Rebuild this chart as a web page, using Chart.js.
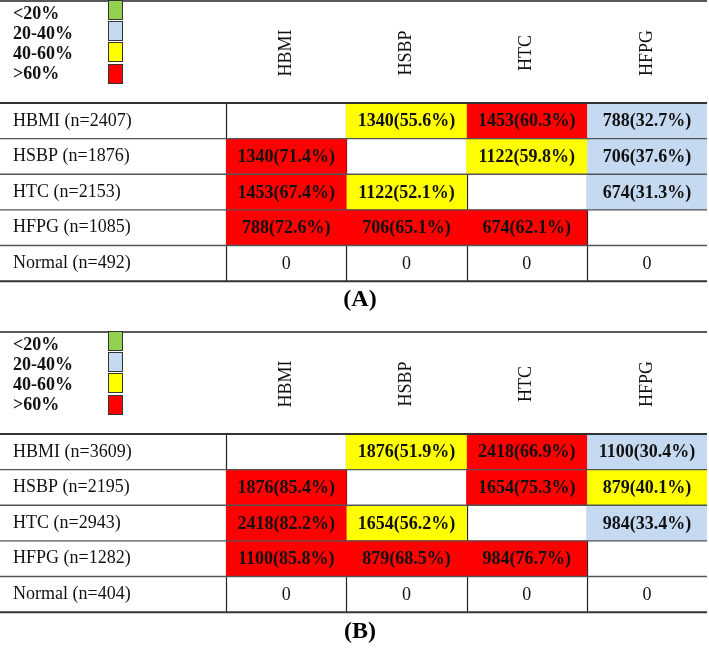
<!DOCTYPE html>
<html>
<head>
<meta charset="utf-8">
<script src="https://cdn.jsdelivr.net/npm/chart.js@4"></script>
<style>
  html, body { margin: 0; padding: 0; background: #fff; }
  .panel { position: relative; width: 709px; height: 325px; }
</style>
</head>
<body>
<div class="panel"><canvas id="chartA"></canvas></div>
<div class="panel"><canvas id="chartB"></canvas></div>
<script>
const columns = ['HBMI', 'HSBP', 'HTC', 'HFPG'];
const legendLabels = ['<20%', '20-40%', '40-60%', '>60%'];
const legendColors = ['#92D050', '#C5D9F1', '#FFFF00', '#FF0000'];

// panel (A)
const rowsA = ['HBMI (n=2407)', 'HSBP (n=1876)', 'HTC (n=2153)', 'HFPG (n=1085)', 'Normal (n=492)'];
const countsA = [
  [null, 1340, 1453, 788],
  [1340, null, 1122, 706],
  [1453, 1122, null, 674],
  [788, 706, 674, null],
  [0, 0, 0, 0]
];
const pctA = [
  [null, 55.6, 60.3, 32.7],
  [71.4, null, 59.8, 37.6],
  [67.4, 52.1, null, 31.3],
  [72.6, 65.1, 62.1, null],
  [null, null, null, null]
];

// panel (B)
const rowsB = ['HBMI (n=3609)', 'HSBP (n=2195)', 'HTC (n=2943)', 'HFPG (n=1282)', 'Normal (n=404)'];
const countsB = [
  [null, 1876, 2418, 1100],
  [1876, null, 1654, 879],
  [2418, 1654, null, 984],
  [1100, 879, 984, null],
  [0, 0, 0, 0]
];
const pctB = [
  [null, 51.9, 66.9, 30.4],
  [85.4, null, 75.3, 40.1],
  [82.2, 56.2, null, 33.4],
  [85.8, 68.5, 76.7, null],
  [null, null, null, null]
];

const SERIF = '"Liberation Serif", "Times New Roman", serif';

function cellColor(p) {
  if (p == null) return 'rgba(255,255,255,0)';
  if (p < 20) return legendColors[0];
  if (p < 40) return legendColors[1];
  if (p <= 60) return legendColors[2];
  return legendColors[3];
}

function makeTablePlugin(counts, pcts) {
  return {
    id: 'tableDecor',
    beforeDatasetsDraw(chart) {
      const { ctx, chartArea, scales: { x } } = chart;
      ctx.save();
      ctx.strokeStyle = '#222';
      ctx.lineWidth = 1.2;
      for (let c = 0; c < columns.length; c++) {
        const px = Math.round(x.getPixelForValue(c)) + 0.5;
        ctx.beginPath();
        ctx.moveTo(px, chartArea.top);
        ctx.lineTo(px, chartArea.bottom);
        ctx.stroke();
      }
      ctx.restore();
    },
    afterDatasetsDraw(chart) {
      const { ctx, chartArea, scales: { x, y } } = chart;
      const n = y.getLabels().length;
      const half = (y.getPixelForValue(1) - y.getPixelForValue(0)) / 2;
      ctx.save();

      // row lines, full width
      for (let i = 0; i <= n; i++) {
        const py = (i < n ? y.getPixelForValue(i) - half : y.getPixelForValue(n - 1) + half);
        ctx.strokeStyle = (i === 0 || i === n) ? '#333' : '#555';
        ctx.lineWidth = (i === 0 || i === n) ? 2 : 1.4;
        ctx.beginPath();
        ctx.moveTo(0, py);
        ctx.lineTo(chartArea.right, py);
        ctx.stroke();
      }
      // top border of the header
      ctx.strokeStyle = '#222';
      ctx.lineWidth = 1.5;
      ctx.beginPath();
      ctx.moveTo(0, x.top);
      ctx.lineTo(chartArea.right, x.top);
      ctx.stroke();

      // cell texts
      ctx.textAlign = 'center';
      ctx.textBaseline = 'middle';
      chart.data.datasets.forEach((ds, c) => {
        const meta = chart.getDatasetMeta(c);
        meta.data.forEach((el, i) => {
          const v = counts[i][c];
          if (v == null) return;
          const pt = el.getCenterPoint();
          ctx.fillStyle = '#111';
          if (v === 0) {
            ctx.font = '18px ' + SERIF;
            ctx.fillText('0', pt.x, pt.y + 1);
          } else {
            ctx.font = 'bold 18px ' + SERIF;
            ctx.fillText(v + '(' + pcts[i][c].toFixed(1) + '%)', pt.x, pt.y + 1);
          }
        });
      });

      // rotated column headers
      const midY = (x.top + chartArea.top) / 2 + 1;
      ctx.font = '18px ' + SERIF;
      ctx.fillStyle = '#111';
      columns.forEach((col, c) => {
        ctx.save();
        ctx.translate(x.getPixelForValue(c + 0.5), midY);
        ctx.rotate(-Math.PI / 2);
        ctx.fillText(col, 0, 0);
        ctx.restore();
      });

      // colour key
      ctx.textAlign = 'left';
      ctx.font = 'bold 18px ' + SERIF;
      legendLabels.forEach((lab, k) => {
        const boxTop = x.top - 1 + k * 21 + (k === 3 ? 1 : 0);
        ctx.fillStyle = legendColors[k];
        ctx.fillRect(108, boxTop, 14, 19);
        ctx.strokeStyle = '#333';
        ctx.lineWidth = 1;
        ctx.strokeRect(108.5, boxTop + 0.5, 14, 19);
        ctx.fillStyle = '#111';
        ctx.fillText(lab, 13, x.top + 13 + k * 20);
      });
      ctx.restore();
    }
  };
}

function makeTable(id, rows, counts, pcts, title, padTop, titlePad) {
  const datasets = columns.map((col, c) => ({
    label: col,
    data: rows.map((r, i) => (counts[i][c] == null ? null : [c, c + 1])),
    backgroundColor: rows.map((r, i) => cellColor(pcts[i][c])),
    borderWidth: 0,
    barPercentage: 1,
    categoryPercentage: 1,
    grouped: false
  }));

  return new Chart(document.getElementById(id), {
    type: 'bar',
    data: { labels: rows, datasets },
    options: {
      indexAxis: 'y',
      responsive: true,
      maintainAspectRatio: false,
      animation: false,
      layout: { padding: { top: padTop, left: 13, right: 2, bottom: 0 } },
      scales: {
        x: {
          type: 'linear',
          position: 'top',
          min: 0,
          max: columns.length,
          grid: { display: false },
          border: { display: false },
          ticks: { display: false },
          afterFit: s => { s.height = 102; }
        },
        y: {
          type: 'category',
          offset: true,
          grid: { display: false },
          border: { display: false },
          ticks: {
            crossAlign: 'far',
            padding: 0,
            color: '#111',
            font: { family: SERIF, size: 18 }
          },
          afterFit: s => { s.width = 213; }
        }
      },
      plugins: {
        legend: { display: false },
        tooltip: { enabled: false },
        title: {
          display: true,
          position: 'bottom',
          text: title,
          color: '#000',
          font: { family: SERIF, size: 24, weight: 'bold' },
          padding: titlePad
        }
      }
    },
    plugins: [makeTablePlugin(counts, pcts)]
  });
}

makeTable('chartA', rowsA, countsA, pctA, '(A)', 1, { top: 4, bottom: 11 });
makeTable('chartB', rowsB, countsB, pctB, '(B)', 7, { top: 5, bottom: 4 });
</script>
</body>
</html>
